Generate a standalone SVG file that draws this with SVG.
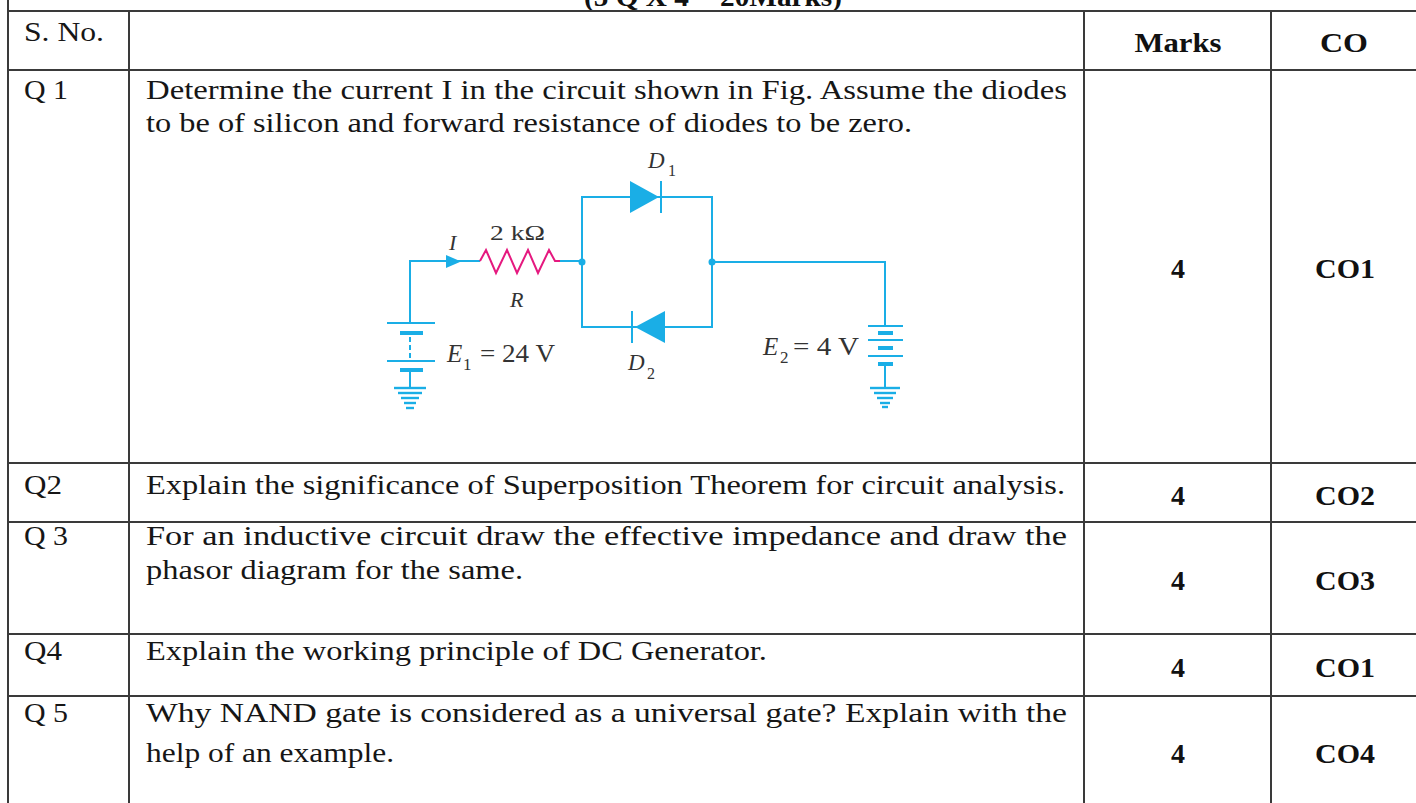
<svg xmlns="http://www.w3.org/2000/svg" width="1416" height="803" viewBox="0 0 1416 803">
<style>
.grid line{stroke:#3a3a3a;stroke-width:2}
.t{font-size:27px;fill:#161616}
.b{font-size:28px;font-weight:bold;fill:#111}
.c{fill:#333}
.i{font-style:italic}
.w{stroke:#1aaee6;stroke-width:2;fill:none}
.pl{stroke:#1aaee6;stroke-width:2}
.sp{stroke:#1aaee6;stroke-width:4}
.gd{stroke:#1aaee6;stroke-width:2.4}
.bl{fill:#1aaee6}
</style>
<rect width="1416" height="803" fill="#fff"/>
<g font-family="'Liberation Serif', 'Times New Roman', serif">
<g id="title"><text class="b" x="713" y="6" text-anchor="middle" textLength="258" lengthAdjust="spacingAndGlyphs">(5 Q X 4 = 20Marks)</text></g>
<g id="grid" class="grid">
<line x1="8" y1="0" x2="8" y2="803"/>
<line x1="129" y1="11" x2="129" y2="803"/>
<line x1="1084" y1="11" x2="1084" y2="803"/>
<line x1="1271" y1="11" x2="1271" y2="803"/>
<line x1="7" y1="11" x2="1416" y2="11"/>
<line x1="7" y1="70" x2="1416" y2="70"/>
<line x1="7" y1="463" x2="1416" y2="463"/>
<line x1="7" y1="522" x2="1416" y2="522"/>
<line x1="7" y1="634" x2="1416" y2="634"/>
<line x1="7" y1="696" x2="1416" y2="696"/>
</g>
<g id="header">
<text class="t" x="24" y="41" textLength="80" lengthAdjust="spacingAndGlyphs">S. No.</text>
<text class="b" x="1178" y="52" text-anchor="middle" textLength="87" lengthAdjust="spacingAndGlyphs">Marks</text>
<text class="b" x="1344" y="52" text-anchor="middle" textLength="48" lengthAdjust="spacingAndGlyphs">CO</text>
</g>
<g id="row-q1">
<text class="t" x="24" y="99" textLength="44" lengthAdjust="spacingAndGlyphs">Q 1</text>
<text class="t" x="146" y="99" textLength="921" lengthAdjust="spacingAndGlyphs">Determine the current I in the circuit shown in Fig. Assume the diodes</text>
<text class="t" x="146" y="132" textLength="766" lengthAdjust="spacingAndGlyphs">to be of silicon and forward resistance of diodes to be zero.</text>
<text class="b" x="1178" y="278" text-anchor="middle">4</text>
<text class="b" x="1345" y="278" text-anchor="middle" textLength="60" lengthAdjust="spacingAndGlyphs">CO1</text>
</g>
<g id="circuit">
<g id="connectors">
<path class="w" d="M410,323 V261 H480"/>
<path class="w" d="M560,261 H582"/>
<path class="w" d="M712,197 H582 V327 H712 Z"/>
<path class="w" d="M712,262 H885 V326"/>
<path class="w" d="M885,364 V388"/>
<path class="w" d="M410,370 V388"/>
<path class="w" d="M410,337 V359" stroke-dasharray="5 3"/>
<circle class="bl" cx="582" cy="262" r="3.5"/>
<circle class="bl" cx="712" cy="262" r="3.5"/>
<polygon class="bl" points="446,255 446,268 461,261.5"/>
</g>
<g id="resistor">
<path d="M480,261 L486,250 L496,273 L507,250 L517,273 L528,250 L538,273 L549,250 L555,261 L560,261" fill="none" stroke="#e5197f" stroke-width="2" stroke-linejoin="miter"/>
<text class="c" x="490" y="240" font-size="22" textLength="55" lengthAdjust="spacingAndGlyphs">2 kΩ</text>
<text class="c i" x="510" y="307" font-size="22">R</text>
<text class="c i" x="449" y="250" font-size="22">I</text>
</g>
<g id="diode-d1">
<polygon class="bl" points="630,181 630,213 659,197"/>
<line class="pl" x1="661" y1="181" x2="661" y2="213" stroke-width="3"/>
<text class="c i" x="648" y="168" font-size="23">D</text>
<text class="c" x="668" y="176" font-size="16">1</text>
</g>
<g id="diode-d2">
<polygon class="bl" points="665,311 665,343 635,327"/>
<line class="pl" x1="632" y1="311" x2="632" y2="343" stroke-width="3"/>
<text class="c i" x="628" y="370" font-size="23">D</text>
<text class="c" x="647" y="379" font-size="16">2</text>
</g>
<g id="battery-e1">
<line class="pl" x1="387" y1="323" x2="435" y2="323"/>
<line class="sp" x1="400" y1="333" x2="423" y2="333"/>
<line class="pl" x1="387" y1="361" x2="435" y2="361"/>
<line class="sp" x1="400" y1="370" x2="423" y2="370"/>
<line class="gd" x1="394" y1="388" x2="426" y2="388"/>
<line class="gd" x1="398" y1="393" x2="422" y2="393"/>
<line class="gd" x1="401" y1="398" x2="419" y2="398"/>
<line class="gd" x1="404" y1="403" x2="416" y2="403"/>
<line class="gd" x1="406" y1="408" x2="414" y2="408"/>
<text class="c i" x="447" y="362" font-size="25">E</text>
<text class="c" x="463" y="370" font-size="17">1</text>
<text class="c" x="480" y="362" font-size="25" textLength="75" lengthAdjust="spacingAndGlyphs">= 24 V</text>
</g>
<g id="battery-e2">
<line class="pl" x1="868" y1="326" x2="903" y2="326"/>
<line class="sp" x1="878" y1="333" x2="893" y2="333"/>
<line class="pl" x1="868" y1="340" x2="903" y2="340"/>
<line class="sp" x1="878" y1="348" x2="893" y2="348"/>
<line class="pl" x1="868" y1="356" x2="903" y2="356"/>
<line class="sp" x1="878" y1="364" x2="893" y2="364"/>
<line class="gd" x1="870" y1="388" x2="900" y2="388"/>
<line class="gd" x1="874" y1="393" x2="896" y2="393"/>
<line class="gd" x1="877" y1="398" x2="893" y2="398"/>
<line class="gd" x1="880" y1="403" x2="890" y2="403"/>
<line class="gd" x1="882" y1="407" x2="888" y2="407"/>
<text class="c i" x="763" y="355" font-size="25">E</text>
<text class="c" x="780" y="363" font-size="17">2</text>
<text class="c" x="793" y="355" font-size="25" textLength="66" lengthAdjust="spacingAndGlyphs">= 4 V</text>
</g>
</g>
<g id="row-q2">
<text class="t" x="24" y="494" textLength="38" lengthAdjust="spacingAndGlyphs">Q2</text>
<text class="t" x="146" y="494" textLength="919" lengthAdjust="spacingAndGlyphs">Explain the significance of Superposition Theorem for circuit analysis.</text>
<text class="b" x="1178" y="505" text-anchor="middle">4</text>
<text class="b" x="1345" y="505" text-anchor="middle" textLength="60" lengthAdjust="spacingAndGlyphs">CO2</text>
</g>
<g id="row-q3">
<text class="t" x="24" y="545" textLength="44" lengthAdjust="spacingAndGlyphs">Q 3</text>
<text class="t" x="146" y="545" textLength="921" lengthAdjust="spacingAndGlyphs">For an inductive circuit draw the effective impedance and draw the</text>
<text class="t" x="146" y="579" textLength="377" lengthAdjust="spacingAndGlyphs">phasor diagram for the same.</text>
<text class="b" x="1178" y="590" text-anchor="middle">4</text>
<text class="b" x="1345" y="590" text-anchor="middle" textLength="60" lengthAdjust="spacingAndGlyphs">CO3</text>
</g>
<g id="row-q4">
<text class="t" x="24" y="660" textLength="38" lengthAdjust="spacingAndGlyphs">Q4</text>
<text class="t" x="146" y="660" textLength="621" lengthAdjust="spacingAndGlyphs">Explain the working principle of DC Generator.</text>
<text class="b" x="1178" y="677" text-anchor="middle">4</text>
<text class="b" x="1345" y="677" text-anchor="middle" textLength="60" lengthAdjust="spacingAndGlyphs">CO1</text>
</g>
<g id="row-q5">
<text class="t" x="24" y="722" textLength="44" lengthAdjust="spacingAndGlyphs">Q 5</text>
<text class="t" x="146" y="722" textLength="921" lengthAdjust="spacingAndGlyphs">Why NAND gate is considered as a universal gate? Explain with the</text>
<text class="t" x="146" y="762" textLength="248" lengthAdjust="spacingAndGlyphs">help of an example.</text>
<text class="b" x="1178" y="763" text-anchor="middle">4</text>
<text class="b" x="1345" y="763" text-anchor="middle" textLength="60" lengthAdjust="spacingAndGlyphs">CO4</text>
</g>
</g>
</svg>
